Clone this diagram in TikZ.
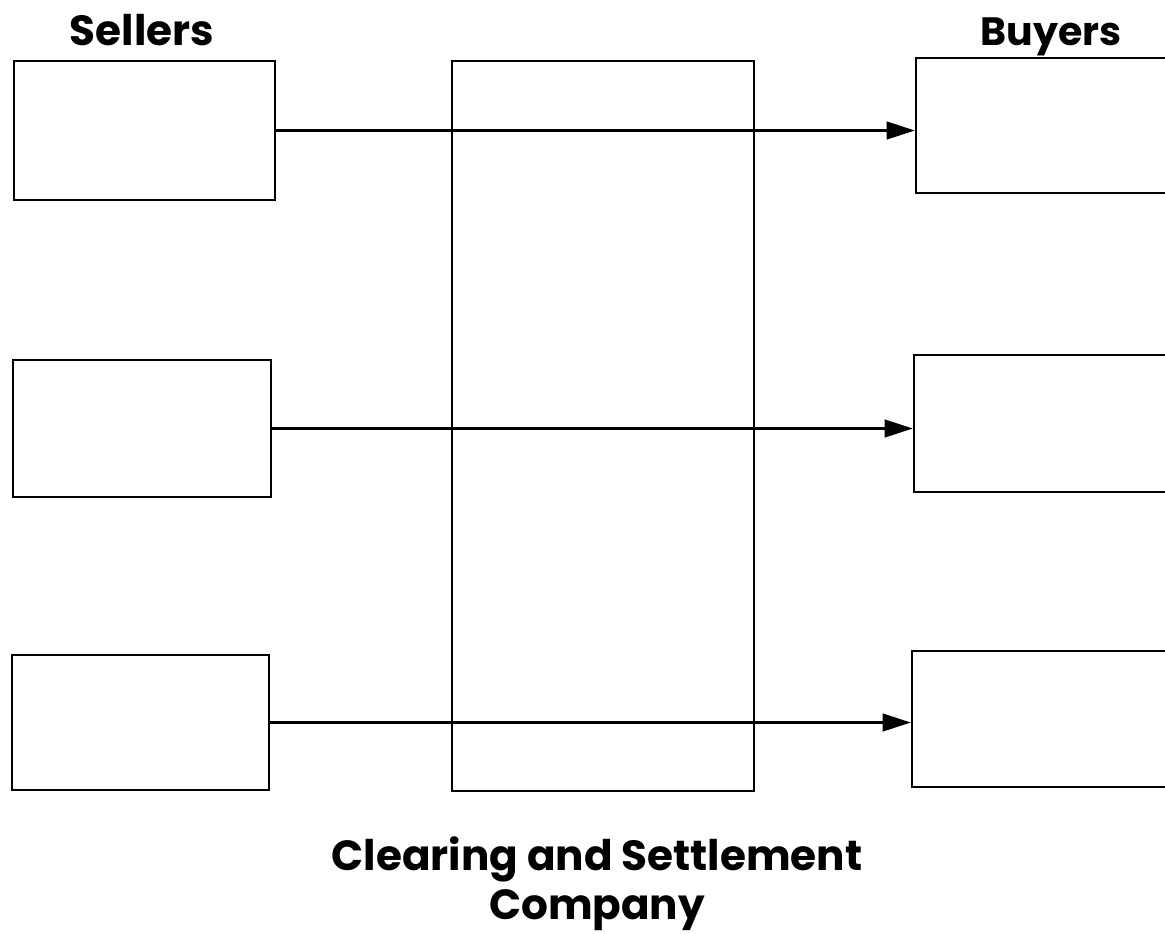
\documentclass[tikz,border=0pt]{standalone}
\usepackage{fontspec}
\setmainfont{Poppins}
\usetikzlibrary{positioning, arrows.meta, calc}

\begin{document}
\begin{tikzpicture}[
    x=0.02cm, y=-0.02cm,
    party/.style={draw, line width=1.4pt, fill=white, inner sep=0pt},
    flow/.style={-{Triangle[length=16pt, width=10pt]}, line width=1.4pt},
    title/.style={font=\fontsize{24}{28}\selectfont\bfseries, inner sep=0pt}
]
\useasboundingbox (0,0) rectangle (1165,933);
\clip (0,0) rectangle (1165,933);

% Societa centrale
\node[party, minimum width=6.04cm, minimum height=14.6cm] (csc) at (603,426) {};

% Venditori
\node[party, minimum width=5.22cm, minimum height=2.78cm] (s1) at (144.5,130.5) {};
\node[party, minimum width=5.16cm, minimum height=2.74cm] (s2) at (142,428.5) {};
\node[party, minimum width=5.14cm, minimum height=2.70cm] (s3) at (140.5,722.5) {};

% Compratori
\node[party, minimum width=5.28cm, minimum height=2.70cm] (b1) at (1048,125.5) {};
\node[party, minimum width=5.32cm, minimum height=2.74cm] (b2) at (1047,423.5) {};
\node[party, minimum width=5.36cm, minimum height=2.72cm] (b3) at (1046,719) {};

% Flussi
\draw[flow] (s1.east) -- (s1.east -| b1.west);
\draw[flow] (s2.east) -- (s2.east -| b2.west);
\draw[flow] (s3.east) -- (s3.east -| b3.west);

% Titoli
\node[title] (sellers) at (142,30) {Sellers};
\node[title, font=\fontsize{22.5}{26}\selectfont\bfseries] (buyers) at (1051,37) {Buyers};
\node[title, align=center] (cname) at (597,884) {Clearing and Settlement\\Company};

\end{tikzpicture}
\end{document}
